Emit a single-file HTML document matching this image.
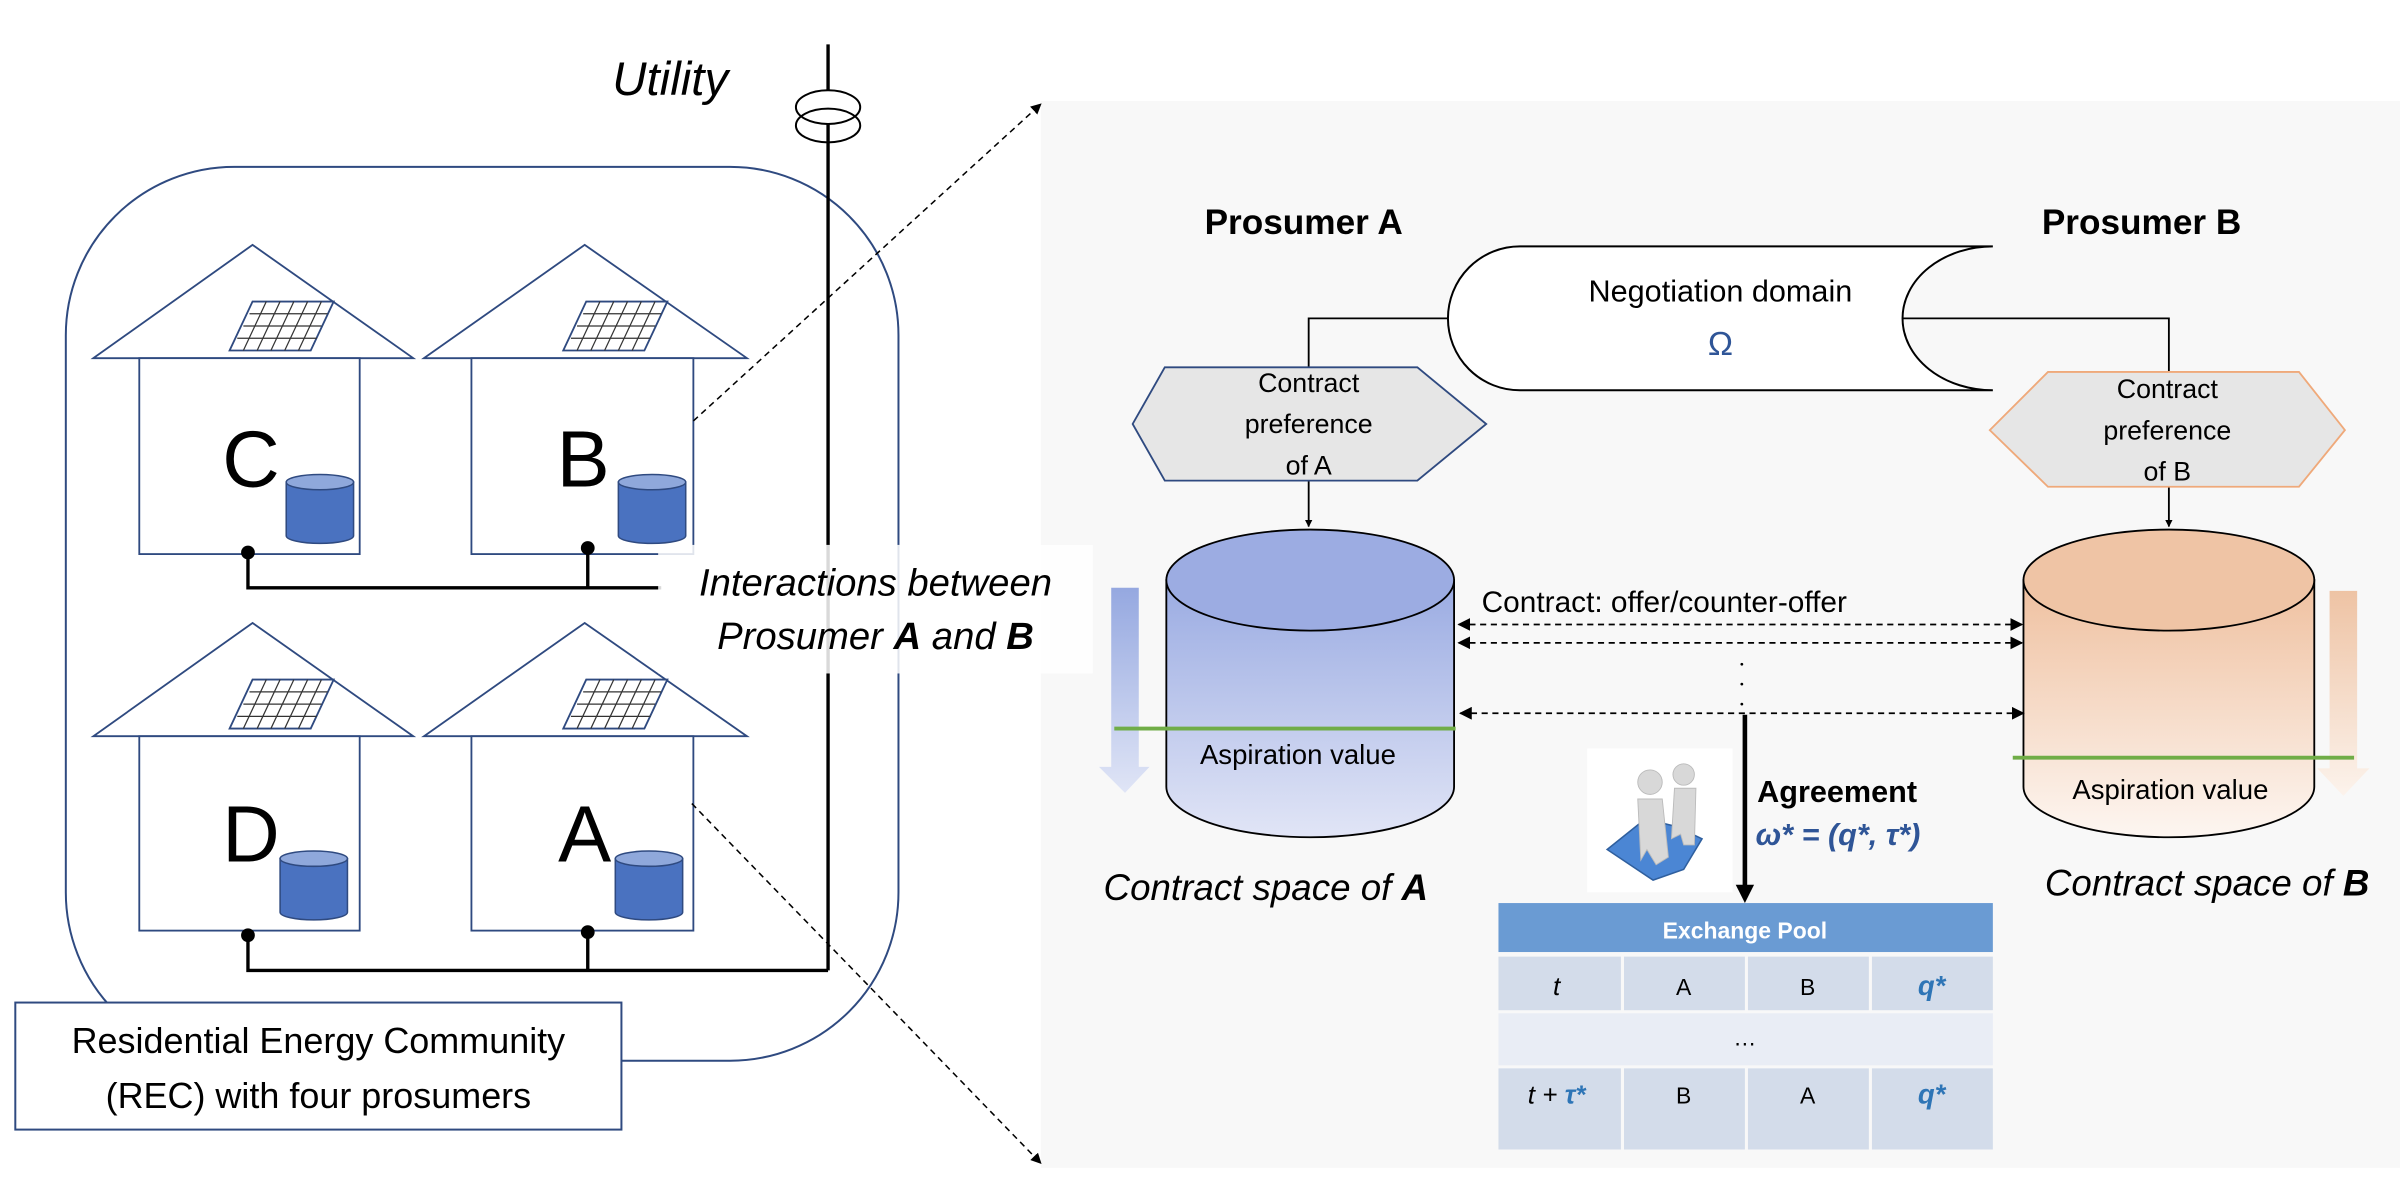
<!DOCTYPE html>
<html><head><meta charset="utf-8"><style>
html,body{margin:0;padding:0;background:#fff;}
svg{display:block;}
text{font-family:"Liberation Sans","DejaVu Sans",sans-serif;}
</style></head><body>
<svg width="2400" height="1200" viewBox="0 0 1568 784" xmlns="http://www.w3.org/2000/svg">
<defs>
<linearGradient id="ga" x1="0" y1="0" x2="0" y2="1"><stop offset="0" stop-color="#9aabe2"/><stop offset="1" stop-color="#e1e5f6"/></linearGradient>
<linearGradient id="gb" x1="0" y1="0" x2="0" y2="1"><stop offset="0" stop-color="#efc09f"/><stop offset="1" stop-color="#fdf6f1"/></linearGradient>
<linearGradient id="gaa" x1="0" y1="0" x2="0" y2="1"><stop offset="0" stop-color="#95a8e0"/><stop offset="1" stop-color="#e0e5f6"/></linearGradient>
<linearGradient id="gba" x1="0" y1="0" x2="0" y2="1"><stop offset="0" stop-color="#eec3a4"/><stop offset="1" stop-color="#fcf3ec"/></linearGradient>
<marker id="ah" viewBox="0 0 10 10" refX="9" refY="5" markerWidth="7" markerHeight="7" orient="auto-start-reverse"><path d="M0,0 L10,5 L0,10 z" fill="#000"/></marker>
<marker id="ah2" viewBox="0 0 10 10" refX="9" refY="5" markerWidth="4" markerHeight="4" orient="auto"><path d="M0,0 L10,5 L0,10 z" fill="#000"/></marker>
<marker id="ah3" viewBox="0 0 10 10" refX="9" refY="5" markerWidth="7" markerHeight="7" orient="auto-start-reverse"><path d="M0,0 L10,5 L0,10 z" fill="#000"/></marker>
<g id="panel"><path d="M165,197 L218,197 L203,229 L150,229 Z" fill="#fff" stroke="#2f4a80" stroke-width="1.2"/>
<g stroke="#333" stroke-width="0.8"><line x1="163" y1="205" x2="214" y2="205"/><line x1="159" y1="213" x2="210" y2="213"/><line x1="155" y1="221" x2="207" y2="221"/>
<line x1="174" y1="197" x2="159" y2="229"/><line x1="183" y1="197" x2="168" y2="229"/><line x1="192" y1="197" x2="177" y2="229"/><line x1="201" y1="197" x2="186" y2="229"/><line x1="210" y1="197" x2="195" y2="229"/></g></g>
<g id="cyl"><path d="M0,5 L0,40 A22,5 0 0 0 44,40 L44,5 Z" fill="#4a72c0" stroke="#2f4a80" stroke-width="1"/><ellipse cx="22" cy="5" rx="22" ry="5" fill="#8fa8db" stroke="#2f4a80" stroke-width="1"/></g>
</defs>
<rect width="1568" height="784" fill="#fff"/>
<rect x="680" y="66" width="888" height="697" fill="#f8f8f8"/>

<text x="400" y="62" font-size="31" font-style="italic">Utility</text>
<rect x="43" y="109" width="544" height="584" rx="110" fill="none" stroke="#2f4a80" stroke-width="1.3"/>
<g fill="none" stroke="#2f4a80" stroke-width="1.2">
<path d="M61,234 L165,160 L270,234 Z" fill="#fff"/><rect x="91" y="234" width="144" height="128" fill="#fff"/>
<path d="M277,234 L382,160 L488,234 Z" fill="#fff"/><rect x="308" y="234" width="145" height="128" fill="#fff"/>
<path d="M61,481 L165,407 L270,481 Z" fill="#fff"/><rect x="91" y="481" width="144" height="127" fill="#fff"/>
<path d="M277,481 L382,407 L488,481 Z" fill="#fff"/><rect x="308" y="481" width="145" height="127" fill="#fff"/>
</g>
<use href="#panel"/><use href="#panel" x="218"/><use href="#panel" y="247"/><use href="#panel" x="218" y="247"/>
<g font-size="52" text-anchor="middle"><text x="164" y="318">C</text><text x="381" y="318">B</text><text x="164" y="563">D</text><text x="382" y="563">A</text></g>
<use href="#cyl" x="187" y="310"/><use href="#cyl" x="404" y="310"/><use href="#cyl" x="183" y="556"/><use href="#cyl" x="402" y="556"/>
<line x1="541" y1="29" x2="541" y2="634" stroke="#000" stroke-width="2.2"/>
<ellipse cx="541" cy="70" rx="21" ry="11" fill="#fff" stroke="#000" stroke-width="1.3"/>
<ellipse cx="541" cy="82" rx="21" ry="11" fill="none" stroke="#000" stroke-width="1.3"/>
<g stroke="#000" stroke-width="2.2" fill="none">
<path d="M162,361 L162,384 L432,384"/><line x1="384" y1="358" x2="384" y2="384"/>
<path d="M162,611 L162,634 L541,634"/><line x1="384" y1="609" x2="384" y2="634"/>
</g>
<g fill="#000"><circle cx="162" cy="361" r="4.5"/><circle cx="384" cy="358" r="4.5"/><circle cx="162" cy="611" r="4.5"/><circle cx="384" cy="609" r="4.5"/></g>
<rect x="430" y="356" width="284" height="84" fill="#fff" opacity="0.85"/>
<text x="572" y="389" font-size="25" font-style="italic" text-anchor="middle">Interactions between</text>
<text x="572" y="424" font-size="25" font-style="italic" text-anchor="middle">Prosumer <tspan font-weight="bold">A</tspan> and <tspan font-weight="bold">B</tspan></text>
<g stroke="#000" stroke-width="1" stroke-dasharray="4,3" fill="none">
<line x1="453" y1="275" x2="680" y2="68" marker-end="url(#ah)"/>
<line x1="452" y1="525" x2="680" y2="760" marker-end="url(#ah)"/>
</g>
<rect x="10" y="655" width="396" height="83" fill="#fff" stroke="#2f4a80" stroke-width="1.3"/>
<text x="208" y="688" font-size="23.5" text-anchor="middle">Residential Energy Community</text>
<text x="208" y="724" font-size="23.5" text-anchor="middle">(REC) with four prosumers</text>

<text x="787" y="153" font-size="23" font-weight="bold">Prosumer A</text>
<text x="1334" y="153" font-size="23" font-weight="bold">Prosumer B</text>
<path d="M1302,161 L993,161 A47,47 0 0 0 993,255 L1302,255 A59,47 0 0 1 1302,161" fill="#fff" stroke="#000" stroke-width="1.3"/>
<text x="1124" y="197" font-size="20" text-anchor="middle">Negotiation domain</text>
<text x="1124" y="232" font-size="22" fill="#2f5597" text-anchor="middle">Ω</text>
<g stroke="#000" stroke-width="1.2" fill="none">
<path d="M946,208 L855,208 L855,240"/>
<path d="M1243,208 L1417,208 L1417,243"/>
<line x1="855" y1="314" x2="855" y2="344" marker-end="url(#ah2)"/>
<line x1="1417" y1="318" x2="1417" y2="344" marker-end="url(#ah2)"/>
</g>
<path d="M761,240 L926,240 L971,277 L926,314 L761,314 L740,277 Z" fill="#e6e6e6" stroke="#2f4a80" stroke-width="1.2"/>
<g font-size="17.5" text-anchor="middle"><text x="855" y="256">Contract</text><text x="855" y="283">preference</text><text x="855" y="310">of A</text></g>
<path d="M1338,243 L1502,243 L1532,281 L1502,318 L1338,318 L1300,281 Z" fill="#e6e6e6" stroke="#efa97a" stroke-width="1.2"/>
<g font-size="17.5" text-anchor="middle"><text x="1416" y="260">Contract</text><text x="1416" y="287">preference</text><text x="1416" y="314">of B</text></g>

<path d="M726,384 L744,384 L744,501 L751,501 L735,518 L718,501 L726,501 Z" fill="url(#gaa)"/>
<path d="M1522,386 L1540,386 L1540,502 L1548,502 L1531,520 L1514,502 L1522,502 Z" fill="url(#gba)"/>

<path d="M762,379 L762,514 A94,33 0 0 0 950,514 L950,379 Z" fill="url(#ga)" stroke="#000" stroke-width="1.2"/>
<ellipse cx="856" cy="379" rx="94" ry="33" fill="#9cace2" stroke="#000" stroke-width="1.2"/>
<line x1="728" y1="476" x2="951" y2="476" stroke="#70ad47" stroke-width="2.5"/>
<text x="848" y="499" font-size="18" text-anchor="middle">Aspiration value</text>
<path d="M1322,379 L1322,514 A95,33 0 0 0 1512,514 L1512,379 Z" fill="url(#gb)" stroke="#000" stroke-width="1.2"/>
<ellipse cx="1417" cy="379" rx="95" ry="33" fill="#efc4a5" stroke="#000" stroke-width="1.2"/>
<line x1="1315" y1="495" x2="1538" y2="495" stroke="#70ad47" stroke-width="2.5"/>
<text x="1418" y="522" font-size="18" text-anchor="middle">Aspiration value</text>
<text x="827" y="588" font-size="24" font-style="italic" text-anchor="middle">Contract space of <tspan font-weight="bold">A</tspan></text>
<text x="1442" y="585" font-size="24" font-style="italic" text-anchor="middle">Contract space of <tspan font-weight="bold">B</tspan></text>

<text x="968" y="400" font-size="19.5">Contract: offer/counter-offer</text>
<g stroke="#000" stroke-width="1.2" stroke-dasharray="4,3" fill="none">
<line x1="953" y1="408" x2="1321" y2="408" marker-start="url(#ah3)" marker-end="url(#ah3)"/>
<line x1="953" y1="420" x2="1321" y2="420" marker-start="url(#ah3)" marker-end="url(#ah3)"/>
<line x1="954" y1="466" x2="1322" y2="466" marker-start="url(#ah3)" marker-end="url(#ah3)"/>
</g>
<g fill="#000"><circle cx="1138" cy="434" r="0.9"/><circle cx="1138" cy="447" r="0.9"/><circle cx="1138" cy="460" r="0.9"/></g>
<line x1="1140" y1="467" x2="1140" y2="580" stroke="#000" stroke-width="3"/>
<path d="M1134,578 L1146,578 L1140,590 Z" fill="#000"/>

<rect x="1037" y="489" width="95" height="94" fill="#fff"/>
<path d="M1050,555 L1075,535 L1095,540 L1112,548 L1100,568 L1080,575 Z" fill="#4b86d4" stroke="#2f5f9e" stroke-width="1"/>
<g fill="#d8d8d8" stroke="#bbb" stroke-width="0.6">
<circle cx="1078" cy="511" r="8"/><path d="M1070,522 L1086,522 L1090,560 L1082,565 L1076,555 L1072,562 Z"/>
<circle cx="1100" cy="506" r="7"/><path d="M1094,515 L1108,515 L1107,552 L1100,552 L1098,545 L1092,548 Z"/>
</g>

<text x="1148" y="524" font-size="20" font-weight="bold">Agreement</text>
<text x="1147" y="552" font-size="20" font-weight="bold" font-style="italic" fill="#2f5597" font-family="Liberation Serif,serif">ω* = (q*, τ*)</text>

<rect x="979" y="590" width="323" height="32" fill="#6a9bd3"/>
<text x="1140" y="613" font-size="15" font-weight="bold" fill="#fff" text-anchor="middle">Exchange Pool</text>
<g fill="#d3dcea">
<rect x="979" y="625" width="80" height="35"/><rect x="1061" y="625" width="79" height="35"/><rect x="1142" y="625" width="79" height="35"/><rect x="1223" y="625" width="79" height="35"/>
<rect x="979" y="698" width="80" height="53"/><rect x="1061" y="698" width="79" height="53"/><rect x="1142" y="698" width="79" height="53"/><rect x="1223" y="698" width="79" height="53"/>
</g>
<rect x="979" y="662" width="323" height="34" fill="#e9edf5"/>
<g font-size="15" text-anchor="middle">
<text x="1017" y="650" font-style="italic" font-family="Liberation Serif,serif" font-size="17">t</text>
<text x="1100" y="650">A</text><text x="1181" y="650">B</text>
<text x="1262" y="650" fill="#2e75b6" font-weight="bold" font-style="italic" font-family="Liberation Serif,serif" font-size="18">q*</text>
<text x="1140" y="683">…</text>
<text x="1017" y="721" font-style="italic" font-family="Liberation Serif,serif" font-size="17">t + <tspan fill="#2e75b6" font-weight="bold">τ*</tspan></text>
<text x="1100" y="721">B</text><text x="1181" y="721">A</text>
<text x="1262" y="721" fill="#2e75b6" font-weight="bold" font-style="italic" font-family="Liberation Serif,serif" font-size="18">q*</text>
</g>
</svg>
</body></html>
